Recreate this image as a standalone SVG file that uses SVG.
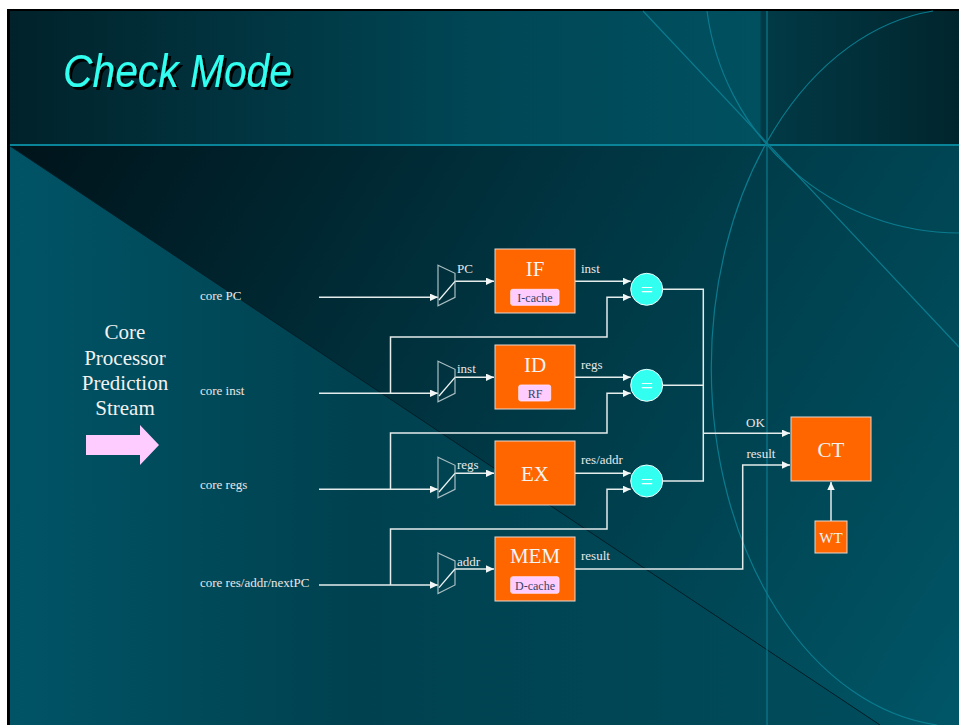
<svg xmlns="http://www.w3.org/2000/svg" width="959" height="725" viewBox="0 0 959 725">
<defs>
  <linearGradient id="gTitle" x1="10" y1="0" x2="959" y2="0" gradientUnits="userSpaceOnUse">
    <stop offset="0" stop-color="#01222a"/>
    <stop offset="0.5" stop-color="#004756"/>
    <stop offset="0.79" stop-color="#005060"/>
    <stop offset="0.792" stop-color="#013a46"/>
    <stop offset="1" stop-color="#01252d"/>
  </linearGradient>
  <linearGradient id="gUpper" x1="10" y1="146" x2="959" y2="725" gradientUnits="userSpaceOnUse">
    <stop offset="0" stop-color="#00131a"/>
    <stop offset="0.45" stop-color="#003440"/>
    <stop offset="1" stop-color="#005667"/>
  </linearGradient>
  <linearGradient id="gLower" x1="10" y1="0" x2="880" y2="0" gradientUnits="userSpaceOnUse">
    <stop offset="0" stop-color="#005466"/>
    <stop offset="0.4" stop-color="#00414f"/>
    <stop offset="1" stop-color="#004c5c"/>
  </linearGradient>
  <filter id="shadow" x="-5%" y="-20%" width="115%" height="150%">
    <feDropShadow dx="3" dy="3" stdDeviation="0" flood-color="#000000" flood-opacity="1"/>
  </filter>
  <marker id="arr" markerUnits="userSpaceOnUse" markerWidth="9" markerHeight="8" refX="8" refY="3.75" orient="auto">
    <path d="M0,0 L8,3.75 L0,7.5 z" fill="#f2f6f6"/>
  </marker>
  <style>
    .wire{fill:none;stroke:#e4ecec;stroke-width:1.5}
    .mux{fill:none;stroke:#a9bfc3;stroke-width:1.2}
    .muxd{stroke:#eef4f4;stroke-width:1.3}
    .box{fill:#ff6600;stroke:#e6d6cc;stroke-width:1}
    .sub{fill:#ffccff;stroke:#ffe4ff;stroke-width:0.8}
    .cmp{fill:#33fff0;stroke:#f0ffff;stroke-width:1}
    .lbl{font-family:"Liberation Serif","Times New Roman",serif;font-size:13px;fill:#e8e8e8}
    .big{font-family:"Liberation Serif","Times New Roman",serif;font-size:21px;fill:#f4f4f4;text-anchor:middle}
    .sm{font-family:"Liberation Serif","Times New Roman",serif;font-size:12px;fill:#334466;text-anchor:middle}
    .eq{font-family:"Liberation Serif","Times New Roman",serif;font-size:22px;fill:#f4ffff;text-anchor:middle}
    .deco{fill:none;stroke:#0a7b8e;stroke-width:1.2}
    .side{font-family:"Liberation Serif","Times New Roman",serif;font-size:21px;fill:#f2f2f2;text-anchor:middle}
  </style>
</defs>

<!-- frame and background -->
<rect x="0" y="0" width="959" height="725" fill="#ffffff"/>
<rect x="7" y="9" width="952" height="716" fill="#000000"/>
<rect x="10" y="11" width="949" height="135" fill="url(#gTitle)"/>
<polygon points="10,146 959,146 959,725 880,725" fill="url(#gUpper)"/>
<polygon points="10,146 880,725 10,725" fill="url(#gLower)"/>
<line x1="10" y1="146" x2="880" y2="725" stroke="#00202a" stroke-width="1"/>

<g id="decor">
  <line x1="10" y1="145" x2="959" y2="145" stroke="#0a8499" stroke-width="2"/>
  <line class="deco" x1="767" y1="11" x2="767" y2="725"/>
  <line class="deco" x1="643" y1="11" x2="959" y2="347"/>
  <path class="deco" d="M707,11 A255,255 0 0 0 959,233"/>
  <path class="deco" d="M933,11 A250,359 0 0 0 937,725"/>
</g>

<g id="title">
  <text x="63" y="87" font-family="'Liberation Sans',Arial,sans-serif" font-style="italic" font-size="47" fill="#33fff0" textLength="229" lengthAdjust="spacingAndGlyphs" filter="url(#shadow)">Check Mode</text>
</g>

<g id="stream">
  <text class="side" x="125" y="339">Core</text>
  <text class="side" x="125" y="364.5">Processor</text>
  <text class="side" x="125" y="390">Prediction</text>
  <text class="side" x="125" y="415">Stream</text>
  <polygon points="86,435 140,435 140,425 159,445 140,465 140,455 86,455" fill="#ffccff"/>
</g>

<g id="inputs">
  <text class="lbl" x="200" y="300">core PC</text>
  <text class="lbl" x="200" y="395">core inst</text>
  <text class="lbl" x="200" y="489">core regs</text>
  <text class="lbl" x="200" y="587">core res/addr/nextPC</text>
</g>

<g id="connectors">
  <path class="wire" d="M319,297.3 H438" marker-end="url(#arr)"/>
  <path class="wire" d="M319,393.3 H438" marker-end="url(#arr)"/>
  <path class="wire" d="M319,489.3 H438" marker-end="url(#arr)"/>
  <path class="wire" d="M319,585 H438" marker-end="url(#arr)"/>
  <path class="wire" d="M455,281.3 H494" marker-end="url(#arr)"/>
  <path class="wire" d="M455,377.3 H494" marker-end="url(#arr)"/>
  <path class="wire" d="M455,473.3 H494" marker-end="url(#arr)"/>
  <path class="wire" d="M455,569 H494" marker-end="url(#arr)"/>
  <path class="wire" d="M575,281.3 H630.7" marker-end="url(#arr)"/>
  <path class="wire" d="M575,377.3 H630.7" marker-end="url(#arr)"/>
  <path class="wire" d="M575,473.3 H630.7" marker-end="url(#arr)"/>
  <path class="wire" d="M390.5,393.3 V337 H607 V297.3 H630.7" marker-end="url(#arr)"/>
  <path class="wire" d="M390.5,489.3 V433 H607 V393.3 H630.7" marker-end="url(#arr)"/>
  <path class="wire" d="M390.5,585 V529 H607 V489.3 H630.7" marker-end="url(#arr)"/>
  <path class="wire" d="M662.7,289.3 H703.3 V481 H662.7"/>
  <path class="wire" d="M662.7,385.3 H703.3"/>
  <path class="wire" d="M703.3,433.3 H790" marker-end="url(#arr)"/>
  <path class="wire" d="M575,569 H742.7 V465 H790" marker-end="url(#arr)"/>
  <path class="wire" d="M831,521 V482" marker-end="url(#arr)"/>
  <text class="lbl" x="457" y="273">PC</text>
  <text class="lbl" x="457" y="373.3">inst</text>
  <text class="lbl" x="457" y="469.3">regs</text>
  <text class="lbl" x="457" y="566">addr</text>
  <text class="lbl" x="581" y="272.5">inst</text>
  <text class="lbl" x="581" y="368.5">regs</text>
  <text class="lbl" x="581" y="464.3">res/addr</text>
  <text class="lbl" x="581" y="560">result</text>
  <text class="lbl" x="746" y="426.7">OK</text>
  <text class="lbl" x="746.5" y="458.3">result</text>
</g>

<g id="mux1">
  <polygon class="mux" points="438,265.3 455,273.3 455,297.3 438,305.8"/>
  <line class="muxd" x1="439" y1="300" x2="455" y2="281.3"/>
</g>
<g id="mux2">
  <polygon class="mux" points="438,361.3 455,369.3 455,393.3 438,401.8"/>
  <line class="muxd" x1="439" y1="396" x2="455" y2="377.3"/>
</g>
<g id="mux3">
  <polygon class="mux" points="438,457.3 455,465.3 455,489.3 438,497.8"/>
  <line class="muxd" x1="439" y1="492" x2="455" y2="473.3"/>
</g>
<g id="mux4">
  <polygon class="mux" points="438,553 455,561 455,585 438,593.5"/>
  <line class="muxd" x1="439" y1="587.7" x2="455" y2="569"/>
</g>

<g id="IF">
  <rect class="box" x="495" y="249" width="80" height="64"/>
  <text class="big" x="535" y="276">IF</text>
  <rect class="sub" x="510.7" y="289.3" width="48.3" height="16" rx="2"/>
  <text class="sm" x="535" y="302">I-cache</text>
</g>
<g id="ID">
  <rect class="box" x="495" y="345" width="80" height="64"/>
  <text class="big" x="535" y="372">ID</text>
  <rect class="sub" x="518.7" y="385" width="32" height="16" rx="2"/>
  <text class="sm" x="535" y="398">RF</text>
</g>
<g id="EX">
  <rect class="box" x="495" y="441" width="80" height="64"/>
  <text class="big" x="535" y="481">EX</text>
</g>
<g id="MEM">
  <rect class="box" x="495" y="537" width="80" height="64"/>
  <text class="big" x="535" y="563.3">MEM</text>
  <rect class="sub" x="510.7" y="576.7" width="48.3" height="16.6" rx="2"/>
  <text class="sm" x="535" y="590">D-cache</text>
</g>

<g id="cmp1">
  <circle class="cmp" cx="646.7" cy="289.3" r="16"/>
  <text class="eq" x="646.7" y="297">=</text>
</g>
<g id="cmp2">
  <circle class="cmp" cx="646.7" cy="385.3" r="16"/>
  <text class="eq" x="646.7" y="393">=</text>
</g>
<g id="cmp3">
  <circle class="cmp" cx="646.7" cy="481" r="16"/>
  <text class="eq" x="646.7" y="488.7">=</text>
</g>

<g id="CT">
  <rect class="box" x="791" y="417" width="80" height="64"/>
  <text class="big" x="831" y="456.7">CT</text>
</g>
<g id="WT">
  <rect class="box" x="815" y="521" width="32" height="32"/>
  <text class="big" x="831" y="543" style="font-size:15px">WT</text>
</g>
</svg>
